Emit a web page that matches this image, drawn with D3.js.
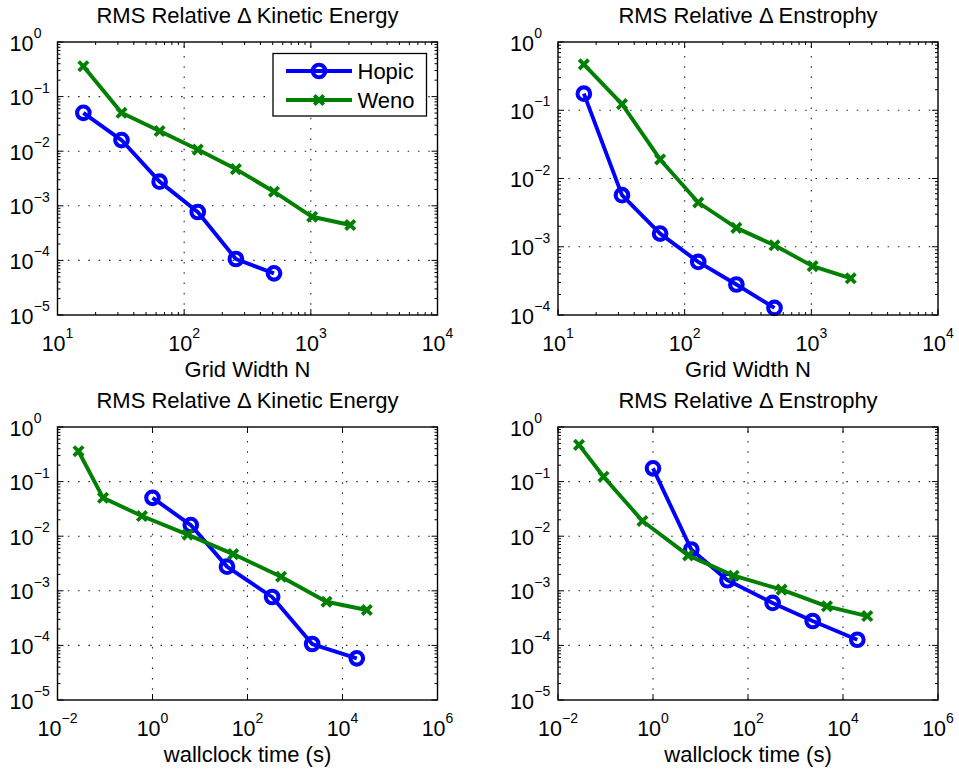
<!DOCTYPE html>
<html>
<head>
<meta charset="utf-8">
<script src="https://cdn.jsdelivr.net/npm/d3@7"></script>
<style>
  html, body { margin: 0; padding: 0; background: #fff; }
  svg { display: block; }
  text { font-family: "Liberation Sans", Arial, Helvetica, sans-serif; fill: #000; }
</style>
</head>
<body>
<svg id="chart" width="959" height="772"></svg>
<script>
// Series names
const seriesNames = ["Hopic", "Weno"];

// Grid widths N used by each scheme
const gridHopic = [16, 32, 64, 128, 256, 512];
const gridWeno = [16, 32, 64, 128, 256, 512, 1024, 2048];

// Wallclock times (s) for each run
const timeHopic = [1.0, 6.4, 37, 330, 2300, 20000];
const timeWeno = [0.0277, 0.091, 0.6, 5.5, 50, 510, 4600, 32500];

// RMS relative change in kinetic energy
const keHopic = [0.0505, 0.016, 0.00277, 0.00077, 0.000106, 0.000058];
const keWeno = [0.36, 0.0505, 0.0234, 0.0107, 0.0047, 0.00181, 0.00063, 0.000445];

// RMS relative change in enstrophy
const ensHopic = [0.175, 0.0057, 0.00156, 0.0006, 0.00028, 0.000127];
const ensWeno = [0.47, 0.123, 0.019, 0.00445, 0.00189, 0.00105, 0.00052, 0.000345];

// Axis text
const titles = ["RMS Relative \u0394 Kinetic Energy", "RMS Relative \u0394 Enstrophy"];
const xLabels = ["Grid Width N", "wallclock time (s)"];
const xTickExpGrid = [1, 2, 3, 4];
const xTickExpTime = [-2, 0, 2, 4, 6];
const yTickExpFive = [-5, -4, -3, -2, -1, 0];
const yTickExpFour = [-4, -3, -2, -1, 0];

const colors = { Hopic: "#0000ff", Weno: "#008000" };

const svg = d3.select("#chart");
const FONT = 21.5, SUP = 14;
const LINE_W = 3.9;

const panels = [
  { box: [57.5, 42, 437.5, 315], title: titles[0], xlabel: xLabels[0], xExp: xTickExpGrid, yExp: yTickExpFive,
    xMinor: true, hx: gridHopic, hy: keHopic, wx: gridWeno, wy: keWeno, legend: true },
  { box: [558, 42, 938, 315], title: titles[1], xlabel: xLabels[0], xExp: xTickExpGrid, yExp: yTickExpFour,
    xMinor: true, hx: gridHopic, hy: ensHopic, wx: gridWeno, wy: ensWeno },
  { box: [57.5, 427, 437.5, 700], title: titles[0], xlabel: xLabels[1], xExp: xTickExpTime, yExp: yTickExpFive,
    xMinor: false, hx: timeHopic, hy: keHopic, wx: timeWeno, wy: keWeno },
  { box: [558, 427, 938, 700], title: titles[1], xlabel: xLabels[1], xExp: xTickExpTime, yExp: yTickExpFive,
    xMinor: false, hx: timeHopic, hy: ensHopic, wx: timeWeno, wy: ensWeno }
];

function expText(exp) {
  return exp < 0 ? "\u2212" + Math.abs(exp) : String(exp);
}

// x tick label: the whole "10^k" centred under the tick
function xPowLabel(g, exp, cx, by) {
  const t = g.append("text").attr("x", cx).attr("y", by)
    .attr("text-anchor", "middle").style("font-size", FONT + "px");
  t.append("tspan").text("10");
  t.append("tspan").attr("dy", -12.5).style("font-size", SUP + "px").text(expText(exp));
}

// y tick label: the "10" part is right-aligned at a fixed column, exponent trails it
function yPowLabel(g, exp, rx, by) {
  g.append("text").attr("x", rx).attr("y", by).attr("text-anchor", "end")
    .style("font-size", FONT + "px").text("10");
  g.append("text").attr("x", rx + 0.3).attr("y", by - 12.5).attr("text-anchor", "start")
    .style("font-size", SUP + "px").text(expText(exp));
}

function minorValues(exps) {
  const out = [];
  for (let i = 0; i < exps.length - 1; i++) {
    for (let k = 2; k <= 9; k++) out.push(k * Math.pow(10, exps[i]));
  }
  return out;
}

function drawMarker(g, type, cx, cy, color) {
  if (type === "Hopic") {
    g.append("circle").attr("cx", cx).attr("cy", cy).attr("r", 6.3)
      .attr("fill", "none").attr("stroke", color).attr("stroke-width", 4.1);
  } else {
    const s = 4.7;
    g.append("path")
      .attr("d", `M${cx - s},${cy - s}L${cx + s},${cy + s}M${cx - s},${cy + s}L${cx + s},${cy - s}`)
      .attr("stroke", color).attr("stroke-width", 3.8).attr("fill", "none");
  }
}

panels.forEach(p => {
  const [L, T, R, B] = p.box;
  const g = svg.append("g");
  const x = d3.scaleLog()
    .domain([Math.pow(10, p.xExp[0]), Math.pow(10, p.xExp[p.xExp.length - 1])])
    .range([L, R]);
  const y = d3.scaleLog()
    .domain([Math.pow(10, p.yExp[0]), Math.pow(10, p.yExp[p.yExp.length - 1])])
    .range([B, T]);

  const xMajor = p.xExp.map(e => Math.pow(10, e));
  const yMajor = p.yExp.map(e => Math.pow(10, e));

  // dotted grid at decades
  const grid = g.append("g").attr("stroke", "#222").attr("stroke-width", 1.1)
    .attr("stroke-dasharray", "1.5,8.8");
  xMajor.slice(1, -1).forEach(v => {
    grid.append("line").attr("x1", x(v)).attr("x2", x(v)).attr("y1", B).attr("y2", T);
  });
  yMajor.slice(1, -1).forEach(v => {
    grid.append("line").attr("x1", L).attr("x2", R).attr("y1", y(v)).attr("y2", y(v));
  });

  // tick marks (inside, mirrored on top and right)
  const ticks = g.append("g").attr("stroke", "#000").attr("stroke-width", 1);
  const xTickSet = xMajor.map(v => [v, 6]).concat(p.xMinor ? minorValues(p.xExp).map(v => [v, 3]) : []);
  xTickSet.forEach(([v, len]) => {
    ticks.append("line").attr("x1", x(v)).attr("x2", x(v)).attr("y1", B).attr("y2", B - len);
    ticks.append("line").attr("x1", x(v)).attr("x2", x(v)).attr("y1", T).attr("y2", T + len);
  });
  const yTickSet = yMajor.map(v => [v, 6]).concat(minorValues(p.yExp).map(v => [v, 3]));
  yTickSet.forEach(([v, len]) => {
    ticks.append("line").attr("x1", L).attr("x2", L + len).attr("y1", y(v)).attr("y2", y(v));
    ticks.append("line").attr("x1", R).attr("x2", R - len).attr("y1", y(v)).attr("y2", y(v));
  });

  // tick labels
  xMajor.forEach((v, i) => xPowLabel(g, p.xExp[i], x(v), B + 35.5));
  yMajor.forEach((v, i) => yPowLabel(g, p.yExp[i], L - 24, y(v) + 8.5));

  // title and x label
  g.append("text").attr("x", (L + R) / 2).attr("y", T - 19).attr("text-anchor", "middle")
    .style("font-size", "22px").text(p.title);
  g.append("text").attr("x", (L + R) / 2).attr("y", B + 62).attr("text-anchor", "middle")
    .style("font-size", "22px").text(p.xlabel);

  // data series
  const line = d3.line().x(d => x(d[0])).y(d => y(d[1]));
  const series = [
    { name: "Hopic", xs: p.hx, ys: p.hy },
    { name: "Weno", xs: p.wx, ys: p.wy }
  ];
  series.forEach(s => {
    const pts = s.xs.map((v, i) => [v, s.ys[i]]);
    const sg = g.append("g");
    sg.append("path").datum(pts).attr("d", line).attr("fill", "none")
      .attr("stroke", colors[s.name]).attr("stroke-width", LINE_W).attr("stroke-linejoin", "round");
    pts.forEach(d => drawMarker(sg, s.name, x(d[0]), y(d[1]), colors[s.name]));
  });

  // axes box
  g.append("rect").attr("x", L).attr("y", T).attr("width", R - L).attr("height", B - T)
    .attr("fill", "none").attr("stroke", "#000").attr("stroke-width", 1.4);

  // legend
  if (p.legend) {
    const lg = g.append("g");
    lg.append("rect").attr("x", 273).attr("y", 53.5).attr("width", 153.5).attr("height", 62.5)
      .attr("fill", "#fff").attr("stroke", "#000").attr("stroke-width", 1.3);
    seriesNames.forEach((name, i) => {
      const yy = 71 + i * 29;
      lg.append("line").attr("x1", 286).attr("x2", 352).attr("y1", yy).attr("y2", yy)
        .attr("stroke", colors[name]).attr("stroke-width", LINE_W);
      drawMarker(lg, name, 319, yy, colors[name]);
      lg.append("text").attr("x", 357.5).attr("y", yy + 8).style("font-size", "22px").text(name);
    });
  }
});
</script>
</body>
</html>
